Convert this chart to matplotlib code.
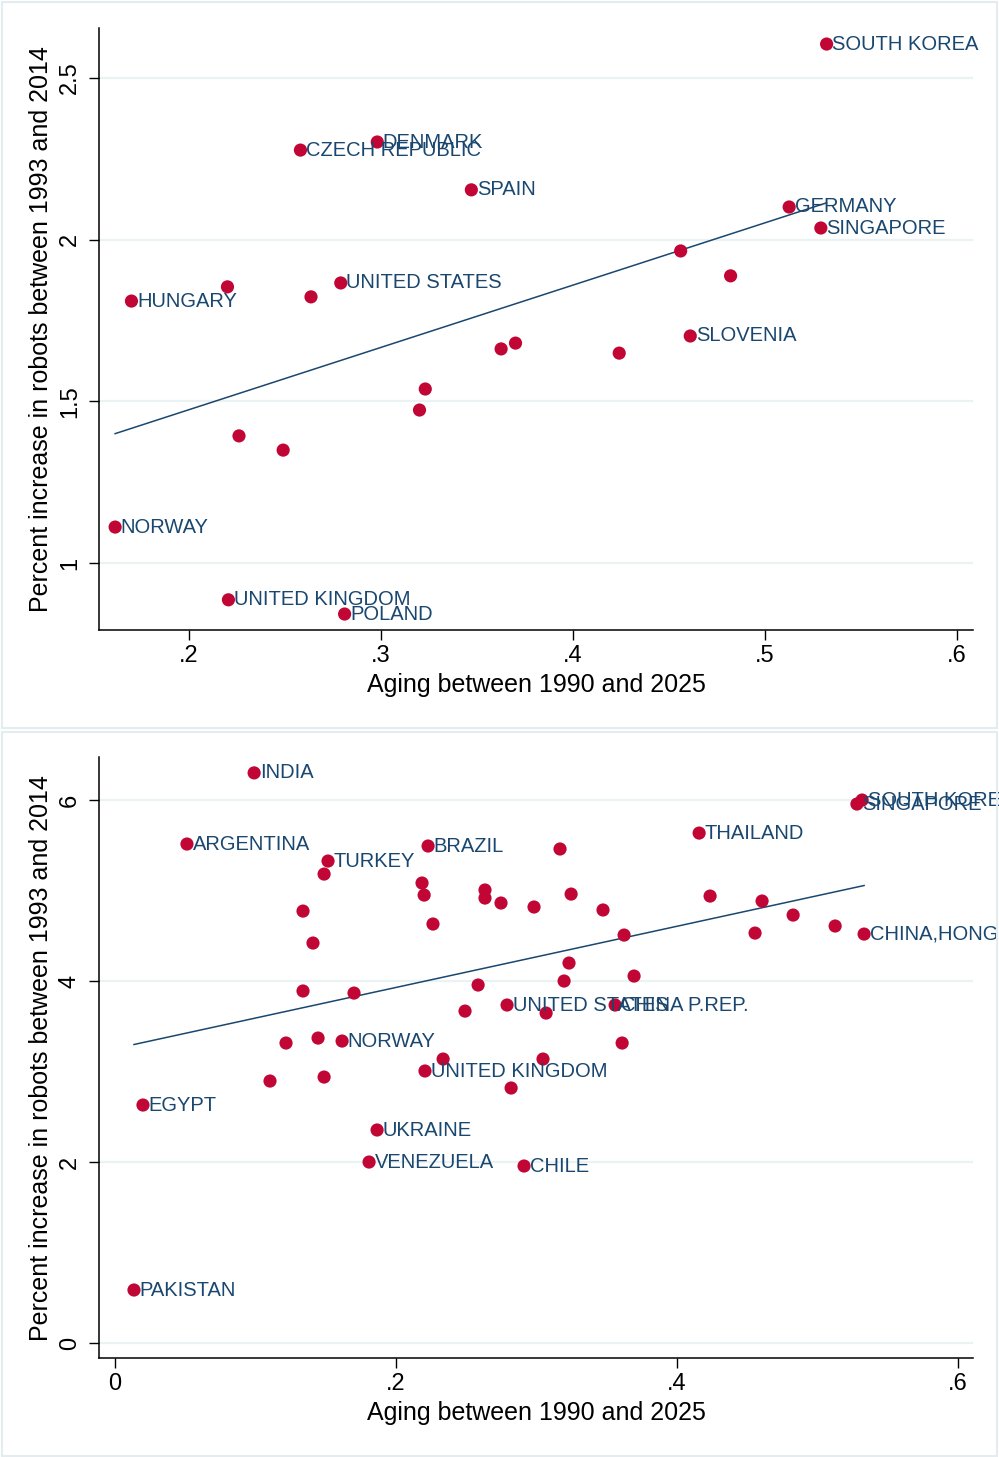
import numpy as np
import matplotlib
matplotlib.use('Agg')
import matplotlib.pyplot as plt
from matplotlib.patches import Rectangle

plt.rcParams['font.family'] = ['Liberation Sans', 'DejaVu Sans']

# Top panel: developed countries
top_names = ['SOUTH KOREA', 'DENMARK', 'CZECH REPUBLIC', 'SPAIN', 'GERMANY',
             'SINGAPORE', '', '', 'UNITED STATES', '', 'HUNGARY', '',
             'SLOVENIA', '', '', '', '', '', '', '', 'NORWAY',
             'UNITED KINGDOM', 'POLAND']
top_aging = [0.532, 0.298, 0.258, 0.347, 0.5125, 0.529, 0.456, 0.482, 0.279,
             0.220, 0.170, 0.2635, 0.461, 0.3625, 0.370, 0.424, 0.323, 0.320,
             0.226, 0.249, 0.1615, 0.2205, 0.281]
top_robots = [2.605, 2.302, 2.277, 2.154, 2.101, 2.036, 1.965, 1.888, 1.866,
              1.854, 1.810, 1.823, 1.702, 1.662, 1.680, 1.649, 1.538, 1.473,
              1.393, 1.349, 1.111, 0.886, 0.842]

# Bottom panel: all countries
bot_names = ['INDIA', 'ARGENTINA', 'TURKEY', '', 'BRAZIL', '', 'THAILAND',
             'SOUTH KOREA', 'SINGAPORE', '', '', '', '', '', '', '', '', '',
             '', '', '', '', 'CHINA,HONG', '', '', '', '', '', '', '', '', '',
             '', '', 'UNITED STATES', 'CHINA P.REP.', '', '', '', 'NORWAY',
             '', '', '', 'UNITED KINGDOM', '', '', '', 'EGYPT', 'UKRAINE',
             'VENEZUELA', 'CHILE', 'PAKISTAN']
bot_aging = [0.099, 0.0512, 0.1516, 0.1488, 0.2228, 0.3167, 0.4157, 0.5317,
             0.528, 0.2185, 0.220, 0.2633, 0.2633, 0.2747, 0.2982, 0.3246,
             0.3473, 0.4235, 0.4605, 0.4826, 0.5125, 0.4555, 0.5331, 0.3623,
             0.1338, 0.1409, 0.2263, 0.3231, 0.3694, 0.1338, 0.1701, 0.2584,
             0.3196, 0.2491, 0.279, 0.3559, 0.3068, 0.1217, 0.1445, 0.1616,
             0.3609, 0.2335, 0.3046, 0.2206, 0.1103, 0.1488, 0.2819, 0.0199,
             0.1865, 0.1808, 0.2911, 0.0135]
bot_robots = [6.30, 5.514, 5.326, 5.182, 5.492, 5.459, 5.635, 6.0, 5.956,
              5.083, 4.95, 5.006, 4.917, 4.862, 4.818, 4.961, 4.785, 4.939,
              4.884, 4.729, 4.608, 4.530, 4.519, 4.508, 4.773, 4.420, 4.630,
              4.199, 4.055, 3.890, 3.867, 3.956, 4.0, 3.668, 3.735, 3.735,
              3.646, 3.315, 3.370, 3.337, 3.315, 3.138, 3.138, 3.006, 2.895,
              2.939, 2.818, 2.630, 2.354, 2.0, 1.956, 0.586]

top_xticks = [0.2, 0.3, 0.4, 0.5, 0.6]
top_xlabels = ['.2', '.3', '.4', '.5', '.6']
top_yticks = [1, 1.5, 2, 2.5]
top_ylabels = ['1', '1.5', '2', '2.5']
bot_xticks = [0, 0.2, 0.4, 0.6]
bot_xlabels = ['0', '.2', '.4', '.6']
bot_yticks = [0, 2, 4, 6]
bot_ylabels = ['0', '2', '4', '6']

xtitle = 'Aging between 1990 and 2025'
ytitle = 'Percent increase in robots between 1993 and 2014'

MARK = '#C10534'
NAVY = '#1A476F'
GRID = '#EAF2F3'


def panel(ax, names, x, y, xticks, xlabels, yticks, ylabels, xlim, ylim):
    for t in yticks:
        ax.axhline(t, color=GRID, lw=1.6, zorder=0)
    ax.scatter(x, y, s=90, color=MARK, edgecolors='none', zorder=3)
    b, a = np.polyfit(x, y, 1)
    xs = np.array([min(x), max(x)])
    ax.plot(xs, a + b*xs, color=NAVY, lw=1.1, zorder=2)
    for n, xi, yi in zip(names, x, y):
        if n:
            ax.annotate(n, (xi, yi), xytext=(4, 0), textcoords='offset points',
                        ha='left', va='center', fontsize=14.5, color=NAVY,
                        zorder=4, annotation_clip=False)
    ax.set_xlim(xlim)
    ax.set_ylim(ylim)
    ax.set_xticks(xticks)
    ax.set_xticklabels(xlabels)
    ax.set_yticks(yticks)
    ax.set_yticklabels(ylabels, rotation=90, va='center')
    ax.tick_params(direction='out', length=7, width=1, labelsize=17, pad=4)
    ax.tick_params(axis='y', pad=6)
    for s in ['top', 'right']:
        ax.spines[s].set_visible(False)
    for s in ['left', 'bottom']:
        ax.spines[s].set_linewidth(1.1)
    ax.set_xlabel(xtitle, fontsize=18)
    ax.set_ylabel(ytitle, fontsize=18)
    ax.xaxis.set_label_coords(0.5, -0.072)
    ax.yaxis.set_label_coords(-0.053, 0.5)


fig = plt.figure(figsize=(9.99, 14.57), dpi=100)

# light frames around the two sub-graphs
for y0, h in [(729/1457, 726/1457), (1/1457, 724/1457)]:
    fig.patches.append(Rectangle((2/999, y0), 995/999, h, transform=fig.transFigure,
                                 fill=False, edgecolor='#E4ECEF', lw=1.5))

ax1 = fig.add_axes([0.0991, 0.5676, 0.875, 0.4132])
panel(ax1, top_names, top_aging, top_robots, top_xticks, top_xlabels,
      top_yticks, top_ylabels, (0.1531, 0.6083), (0.7926, 2.6547))

ax2 = fig.add_axes([0.0991, 0.0679, 0.875, 0.4125])
panel(ax2, bot_names, bot_aging, bot_robots, bot_xticks, bot_xlabels,
      bot_yticks, bot_ylabels, (-0.0114, 0.6107), (-0.166, 6.475))

fig.savefig('out.png', dpi=100)
